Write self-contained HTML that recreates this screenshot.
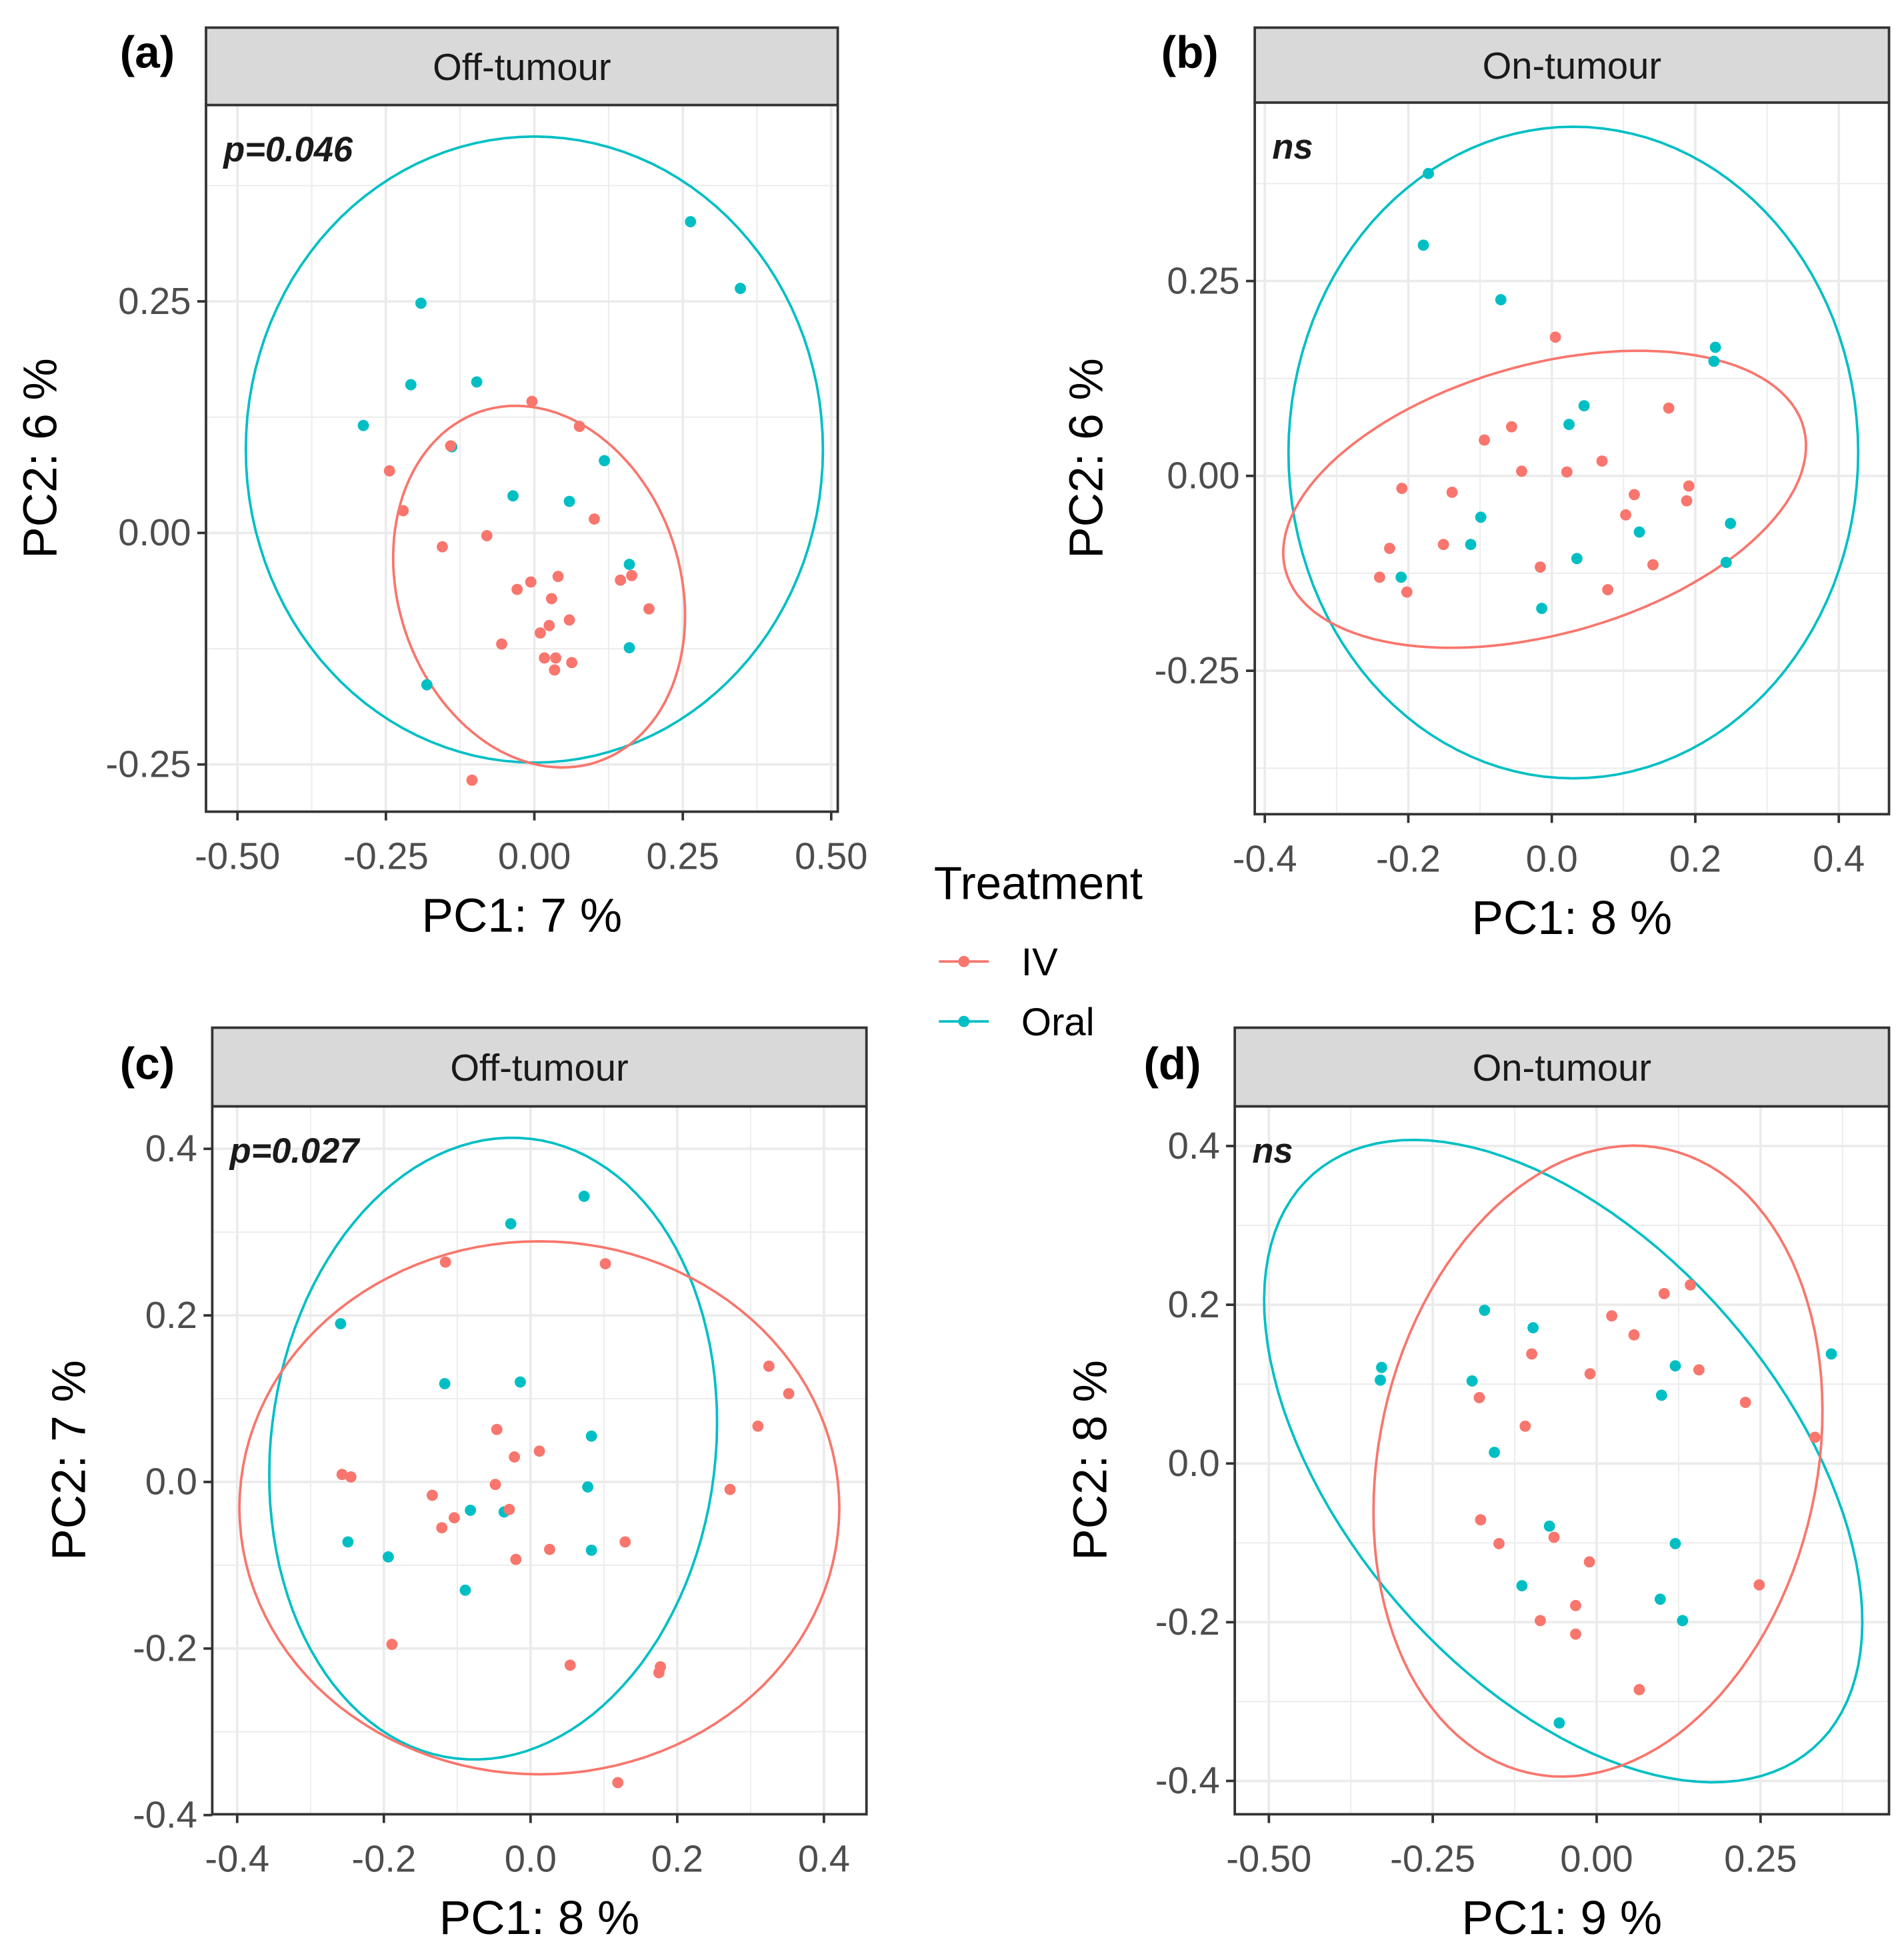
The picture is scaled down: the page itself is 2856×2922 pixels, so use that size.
<!DOCTYPE html>
<html><head><meta charset="utf-8">
<style>
html,body{margin:0;padding:0;background:#fff;width:2856px;height:2922px;overflow:hidden;}
svg{display:block;}
text{font-family:"Liberation Sans",sans-serif;}
</style></head>
<body>
<svg id="fig" width="2856" height="2922" viewBox="0 0 1525 1560" xmlns="http://www.w3.org/2000/svg">
<rect width="1525" height="1560" fill="#fff"/>
<g>
<text x="748" y="720" font-size="37" fill="#000">Treatment</text>
<g>
<line x1="752" y1="770" x2="792" y2="770" stroke="#F8766D" stroke-width="2"/>
<circle cx="772" cy="770" r="4.5" fill="#F8766D"/>
<text x="818" y="781" font-size="31" fill="#000">IV</text></g>
<g>
<line x1="752" y1="818" x2="792" y2="818" stroke="#00BFC4" stroke-width="2"/>
<circle cx="772" cy="818" r="4.5" fill="#00BFC4"/>
<text x="818" y="829" font-size="31" fill="#000">Oral</text></g>
</g>
</svg>
<script>
// ---- Panel (a) data ----
const aOralX=[0.263,0.347,-0.191,-0.208,-0.097,-0.288,-0.139,0.118,-0.036,0.059,0.160,0.160,-0.181];
const aOralY=[0.336,0.264,0.248,0.160,0.163,0.116,0.093,0.078,0.040,0.034,-0.034,-0.124,-0.164];
const aIVX=[-0.004,0.076,-0.244,-0.221,-0.141,-0.155,-0.080,0.101,0.040,-0.006,-0.029,0.029,0.145,0.164,0.193,0.059,0.025,0.010,-0.055,0.017,0.036,0.063,0.034,-0.105];
const aIVY=[0.142,0.115,0.067,0.024,0.094,-0.015,-0.003,0.015,-0.047,-0.053,-0.061,-0.071,-0.051,-0.046,-0.082,-0.094,-0.100,-0.108,-0.120,-0.135,-0.135,-0.140,-0.148,-0.267];
const aXTicks=[-0.5,-0.25,0,0.25,0.5];
const aXLabels=["-0.50","-0.25","0.00","0.25","0.50"];
const aYTicks=[-0.25,0,0.25];
const aYLabels=["-0.25","0.00","0.25"];
const aOralEllipse=[0,0.09,0.486,0,0,0.338];
const aIVEllipse=[0.008,-0.058,0.099,-0.189,0.225,0.049];
// ---- Panel (b) data ----
const bOralX=[-0.172,-0.179,-0.071,0.228,0.226,0.045,0.024,-0.099,-0.113,0.122,0.249,0.243,0.035,-0.210,-0.014];
const bOralY=[0.388,0.296,0.226,0.165,0.147,0.090,0.066,-0.053,-0.088,-0.072,-0.061,-0.111,-0.106,-0.130,-0.170];
const bIVX=[0.005,0.163,-0.056,-0.094,-0.042,0.021,0.070,-0.209,-0.139,0.115,0.191,0.188,0.103,-0.226,-0.151,-0.240,-0.202,-0.016,0.141,0.078];
const bIVY=[0.178,0.087,0.063,0.046,0.006,0.005,0.019,-0.016,-0.021,-0.024,-0.013,-0.032,-0.050,-0.093,-0.088,-0.130,-0.149,-0.117,-0.114,-0.146];
const bXTicks=[-0.4,-0.2,0,0.2,0.4];
const bXLabels=["-0.4","-0.2","0.0","0.2","0.4"];
const bYTicks=[-0.25,0,0.25];
const bYLabels=["-0.25","0.00","0.25"];
const bOralEllipse=[0.03,0.03,0.397,0,0,0.418];
const bIVEllipse=[-0.01,-0.03,0.363,0.053,0.031,0.183];
// ---- Panel (c) data ----
const cOralX=[0.073,-0.027,-0.259,-0.117,-0.014,0.083,0.078,-0.082,-0.036,0.083,-0.249,-0.194,-0.089];
const cOralY=[0.343,0.310,0.190,0.118,0.120,0.055,-0.006,-0.034,-0.036,-0.082,-0.072,-0.090,-0.130];
const cIVX=[-0.116,0.102,0.325,0.352,0.310,-0.046,0.012,-0.022,-0.257,-0.245,-0.048,0.272,-0.134,-0.029,-0.104,-0.121,0.026,0.129,-0.020,-0.189,0.054,0.177,0.175,0.119];
const cIVY=[0.264,0.262,0.139,0.106,0.067,0.063,0.037,0.030,0.009,0.006,-0.003,-0.009,-0.016,-0.033,-0.043,-0.055,-0.081,-0.072,-0.093,-0.195,-0.220,-0.222,-0.229,-0.361];
const cXTicks=[-0.4,-0.2,0,0.2,0.4];
const cXLabels=["-0.4","-0.2","0.0","0.2","0.4"];
const cYTicks=[-0.4,-0.2,0,0.2,0.4];
const cYLabels=["-0.4","-0.2","0.0","0.2","0.4"];
const cOralEllipse=[-0.051,0.04,0.051,0.372,0.301,-0.031];
const cIVEllipse=[0.012,-0.031,0.409,0,0,0.32];
// ---- Panel (d) data ----
const dOralX=[0.358,-0.328,-0.330,-0.171,-0.097,-0.190,0.120,0.099,-0.156,-0.072,0.120,-0.114,0.097,0.131,-0.057];
const dOralY=[0.138,0.121,0.105,0.193,0.171,0.104,0.123,0.086,0.014,-0.079,-0.101,-0.154,-0.171,-0.198,-0.327];
const dIVX=[0.143,0.103,0.023,0.057,0.156,-0.099,-0.010,0.227,-0.179,-0.109,0.333,-0.177,-0.065,-0.149,-0.011,0.248,-0.086,-0.032,-0.032,0.065];
const dIVY=[0.225,0.214,0.186,0.162,0.118,0.138,0.113,0.077,0.083,0.047,0.033,-0.071,-0.093,-0.101,-0.124,-0.153,-0.198,-0.179,-0.215,-0.285];
const dXTicks=[-0.5,-0.25,0,0.25];
const dXLabels=["-0.50","-0.25","0.00","0.25"];
const dYTicks=[-0.4,-0.2,0,0.2,0.4];
const dYLabels=["-0.4","-0.2","0.0","0.2","0.4"];
const dOralEllipse=[-0.051,0.003,0.381,-0.362,0.251,0.181];
const dIVEllipse=[0.002,0.003,0.105,0.393,0.326,-0.06];

const NS="http://www.w3.org/2000/svg";
const svg=document.getElementById('fig');
function mk(tag,attrs,parent){const e=document.createElementNS(NS,tag);for(const k in attrs)e.setAttribute(k,attrs[k]);(parent||svg).appendChild(e);return e;}

const panels=[
 {id:'a',label:'(a)',strip:'Off-tumour',stat:'p=0.046',L:165,R:671,T:84,B:650,ST:22,xd:[-0.553,0.511],yd:[0.462,-0.301],
  oX:aOralX,oY:aOralY,iX:aIVX,iY:aIVY,xt:aXTicks,xl:aXLabels,yt:aYTicks,yl:aYLabels,oE:aOralEllipse,iE:aIVEllipse,xtitle:'PC1:  7 %',ytitle:'PC2:  6 %',ytx:32,lblx:96,lbly:54},
 {id:'b',label:'(b)',strip:'On-tumour',stat:'ns',L:1005,R:1513,T:82,B:652,ST:22,xd:[-0.414,0.470],yd:[0.479,-0.434],
  oX:bOralX,oY:bOralY,iX:bIVX,iY:bIVY,xt:bXTicks,xl:bXLabels,yt:bYTicks,yl:bYLabels,oE:bOralEllipse,iE:bIVEllipse,xtitle:'PC1:  8 %',ytitle:'PC2:  6 %',ytx:870,lblx:930,lbly:54},
 {id:'c',label:'(c)',strip:'Off-tumour',stat:'p=0.027',L:170,R:694,T:886,B:1453,ST:823,xd:[-0.434,0.458],yd:[0.451,-0.399],
  oX:cOralX,oY:cOralY,iX:cIVX,iY:cIVY,xt:cXTicks,xl:cXLabels,yt:cYTicks,yl:cYLabels,oE:cOralEllipse,iE:cIVEllipse,xtitle:'PC1:  8 %',ytitle:'PC2:  7 %',ytx:55,lblx:96,lbly:864},
 {id:'d',label:'(d)',strip:'On-tumour',stat:'ns',L:989,R:1513,T:886,B:1453,ST:823,xd:[-0.552,0.446],yd:[0.450,-0.442],
  oX:dOralX,oY:dOralY,iX:dIVX,iY:dIVY,xt:dXTicks,xl:dXLabels,yt:dYTicks,yl:dYLabels,oE:dOralEllipse,iE:dIVEllipse,xtitle:'PC1:  9 %',ytitle:'PC2:  8 %',ytx:873,lblx:916,lbly:864}
];

panels.forEach(p=>{
 const g=mk('g',{});
 
 
 const sx=v=>p.L+(v-p.xd[0])/(p.xd[1]-p.xd[0])*(p.R-p.L);
 const sy=v=>p.T+(v-p.yd[0])/(p.yd[1]-p.yd[0])*(p.B-p.T);
 const gp=mk('clipPath',{id:'clip'+p.id},g);
 mk('rect',{x:p.L,y:p.T,width:p.R-p.L,height:p.B-p.T},gp);
 const grid=mk('g',{'clip-path':'url(#clip'+p.id+')'},g);
 
 
 const xs=p.xt[1]-p.xt[0], ys=p.yt[1]-p.yt[0];
 for(let v=p.xt[0]-xs*2.5; v<=p.xt[p.xt.length-1]+xs*2.6; v+=xs/2){
   const major=Math.abs(((v-p.xt[0])/xs)-Math.round((v-p.xt[0])/xs))<1e-6;
   mk('line',{x1:sx(v),x2:sx(v),y1:p.T,y2:p.B,stroke:'#EBEBEB','stroke-width':major?2:1},grid);
 }
 for(let v=p.yt[0]-ys*2.5; v<=p.yt[p.yt.length-1]+ys*2.6; v+=ys/2){
   const major=Math.abs(((v-p.yt[0])/ys)-Math.round((v-p.yt[0])/ys))<1e-6;
   mk('line',{y1:sy(v),y2:sy(v),x1:p.L,x2:p.R,stroke:'#EBEBEB','stroke-width':major?2:1},grid);
 }
 const plot=mk('g',{'clip-path':'url(#clip'+p.id+')'},g);
 function ell(E,col,name){
   let d='';
   for(let i=0;i<=120;i++){const t=i/120*2*Math.PI;
     const x=E[0]+E[2]*Math.cos(t)+E[4]*Math.sin(t), y=E[1]+E[3]*Math.cos(t)+E[5]*Math.sin(t);
     d+=(i?'L':'M')+sx(x).toFixed(1)+' '+sy(y).toFixed(1);}
   const e=mk('path',{d:d,fill:'none',stroke:col,'stroke-width':2},plot);
   
   
 }
 ell(p.oE,'#00BFC4','ellipse-oral');
 ell(p.iE,'#F8766D','ellipse-iv');
 p.oX.forEach((x,i)=>{const c=mk('circle',{cx:sx(x),cy:sy(p.oY[i]),r:4.5,fill:'#00BFC4'},plot);
   
   });
 p.iX.forEach((x,i)=>{const c=mk('circle',{cx:sx(x),cy:sy(p.iY[i]),r:4.5,fill:'#F8766D'},plot);
   
   });
 mk('rect',{x:p.L,y:p.T,width:p.R-p.L,height:p.B-p.T,fill:'none',stroke:'#333','stroke-width':2},g);
 const st=mk('rect',{x:p.L,y:p.ST,width:p.R-p.L,height:p.T-p.ST,fill:'#D9D9D9',stroke:'#333','stroke-width':2},g);
 
 
 const stt=mk('text',{x:(p.L+p.R)/2,y:(p.ST+p.T)/2+11,'font-size':30,'text-anchor':'middle',fill:'#1A1A1A'},g);
 stt.textContent=p.strip;
 
 
 const lb=mk('text',{x:p.lblx,y:p.lbly,'font-size':36,'font-weight':'bold',fill:'#000'},g);
 lb.textContent=p.label;
 
 
 const s=mk('text',{x:p.L+14,y:p.T+45,'font-size':28,'font-weight':'bold','font-style':'italic',fill:'#1A1A1A'},g);
 s.textContent=p.stat;
 
 
 p.xt.forEach((v,i)=>{
   mk('line',{x1:sx(v),x2:sx(v),y1:p.B,y2:p.B+7,stroke:'#333','stroke-width':2},g);
   const t=mk('text',{x:sx(v),y:p.B+46,'font-size':30,'text-anchor':'middle',fill:'#4D4D4D'},g);
   t.textContent=p.xl[i];
   
   
 });
 p.yt.forEach((v,i)=>{
   mk('line',{x1:p.L-7,x2:p.L,y1:sy(v),y2:sy(v),stroke:'#333','stroke-width':2},g);
   const t=mk('text',{x:p.L-12,y:sy(v)+10,'font-size':30,'text-anchor':'end',fill:'#4D4D4D'},g);
   t.textContent=p.yl[i];
   
   
 });
 const xt=mk('text',{x:(p.L+p.R)/2,y:p.B+96,'font-size':38,'text-anchor':'middle',fill:'#000'},g);
 xt.textContent=p.xtitle;
 
 
 const cy=(p.T+p.B)/2;
 const yt=mk('text',{x:p.ytx+13,y:cy,'font-size':38,'text-anchor':'middle',fill:'#000',transform:'rotate(-90 '+(p.ytx+13)+' '+cy+')'},g);
 yt.textContent=p.ytitle;
 
 
});
</script>
</body></html>
